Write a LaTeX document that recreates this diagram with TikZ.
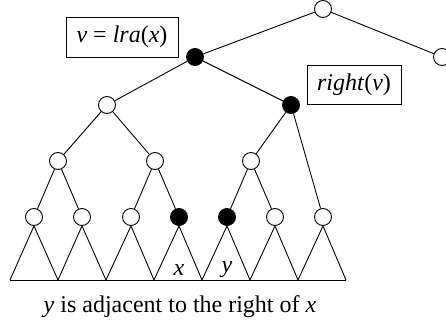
\documentclass[tikz,border=0pt]{standalone}
\usepackage{fontspec}
\setmainfont{Liberation Serif}
\begin{document}
\begin{tikzpicture}[x=1pt, y=-1pt, line width=0.9pt,
    font=\fontsize{24}{27}\selectfont,
    vtx/.style={circle, draw, fill=white, minimum size=17pt, inner sep=0pt},
    blackvtx/.style={vtx, fill=black},
    lblbox/.style={draw, inner sep=0pt}]
    \useasboundingbox (0,0) rectangle (446,329);
    % upper part of the tree
    \node[vtx] (root) at (323,9) {};
    \node[vtx] (rr) at (442,57) {};
    \node[blackvtx] (v) at (195,57) {};
    \node[vtx] (va) at (107,105) {};
    \node[blackvtx] (w) at (291,105) {};
    \node[vtx] (b1) at (58,161) {};
    \node[vtx] (b2) at (155,161) {};
    \node[vtx] (b3) at (251,161) {};
    % lowest level
    \foreach \i/\x in {1/34,2/82,3/131,6/275,7/323}
        \node[vtx] (l\i) at (\x,217) {};
    \node[blackvtx] (l4) at (179,217) {};
    \node[blackvtx] (l5) at (227,217) {};
    % edges
    \draw (root) -- (v);
    \draw (root) -- (rr);
    \draw (v) -- (va);
    \draw (v) -- (w);
    \draw (va) -- (b1);
    \draw (va) -- (b2);
    \draw (w) -- (b3);
    \draw (w) -- (l7);
    \draw (b1) -- (l1);
    \draw (b1) -- (l2);
    \draw (b2) -- (l3);
    \draw (b2) -- (l4);
    \draw (b3) -- (l5);
    \draw (b3) -- (l6);
    % subtrees as triangles
    \foreach \k in {0,...,7}
        \coordinate (base\k) at (10+48*\k,280);
    \foreach \i [evaluate=\i as \j using int(\i-1)] in {1,...,7}
        \draw (base\j) -- (l\i.south) -- (base\i);
    \draw (base0) -- (base7);
    % labels
    \node[lblbox, minimum width=112pt, minimum height=40pt] (lra) at (122,37)
        {\textit{v} = \textit{lra}(\textit{x})};
    \node[lblbox, minimum width=94pt, minimum height=39pt] (rgt) at (354,84.5)
        {\textit{right}(\textit{v})};
    \node (x) at (179,270) {\textit{x}};
    \node (y) at (227,270) {\textit{y}};
    \node (cap) at (180,307) {\textit{y} is adjacent to the right of \textit{x}};
\end{tikzpicture}
\end{document}
